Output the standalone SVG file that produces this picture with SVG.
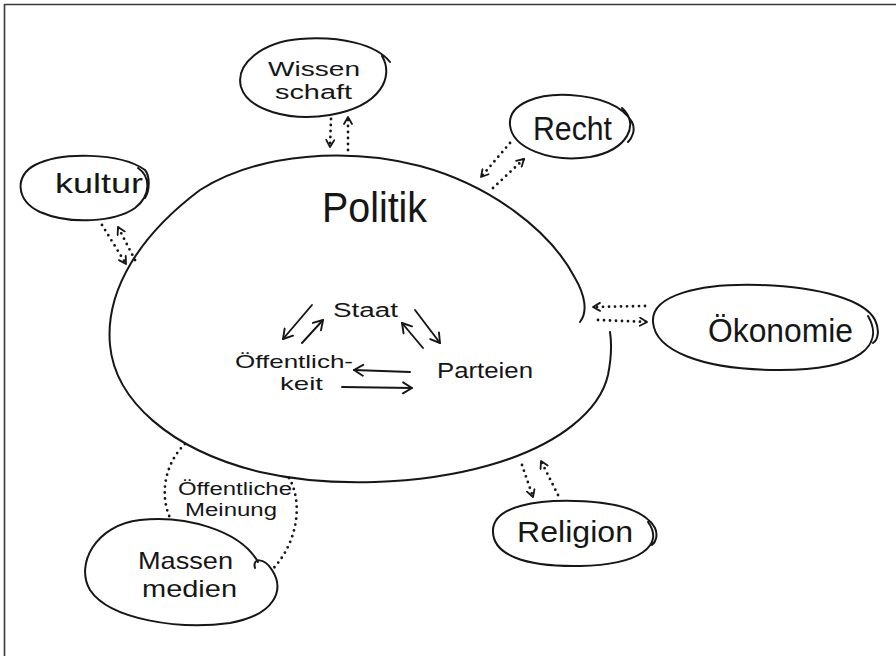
<svg xmlns="http://www.w3.org/2000/svg" width="896" height="656" viewBox="0 0 896 656">
  <style>
    .bg { fill: #ffffff; }
    .frame { fill: none; stroke: #3a3a3a; stroke-width: 1.6; }
    .blob { fill: none; stroke: #161616; stroke-width: 2; stroke-linecap: round; stroke-linejoin: round; }
    .dots { fill: none; stroke: #161616; stroke-width: 2.8; stroke-linecap: round; stroke-dasharray: 0 6; }
    .arrow { fill: none; stroke: #161616; stroke-width: 1.9; stroke-linecap: round; }
    .lbl { font-family: "Liberation Sans", Arial, sans-serif; fill: #161616; }
  </style>
  <defs>
    <marker id="tip" viewBox="0 0 10 10" refX="8" refY="5" markerWidth="10" markerHeight="10" markerUnits="userSpaceOnUse" orient="auto">
      <path d="M1,1 L8,5 L1,9" fill="none" stroke="#161616" stroke-width="1.8" stroke-linecap="round" stroke-linejoin="round"/>
    </marker>
    <marker id="tipL" viewBox="0 0 14 14" refX="11" refY="7" markerWidth="14" markerHeight="14" markerUnits="userSpaceOnUse" orient="auto">
      <path d="M2,1.5 L11,7 L2,12.5" fill="none" stroke="#161616" stroke-width="1.9" stroke-linecap="round" stroke-linejoin="round"/>
    </marker>
  </defs>

  <rect class="bg" x="0" y="0" width="896" height="656"/>
  <path class="frame" d="M4.5,656 L4.5,4.5 L896,4.5"/>

  <!-- central system -->
  <g id="politik">
    <path class="blob" d="M580,322 C588,312 585,295 575,278 C550,230 490,185 420,166 C350,148 260,152 200,190 C140,235 105,290 110,345 C115,400 170,450 260,472 C330,488 420,485 490,465 C560,445 600,410 608,375 C611,360 612,345 610,332"/>
    <text class="lbl" x="322" y="222" font-size="42" textLength="105" lengthAdjust="spacingAndGlyphs">Politik</text>
  </g>

  <g id="staat">
    <text class="lbl" x="333" y="317" font-size="20" textLength="65" lengthAdjust="spacingAndGlyphs">Staat</text>
  </g>
  <g id="oeffentlichkeit">
    <text class="lbl" x="235" y="368" font-size="19" textLength="118" lengthAdjust="spacingAndGlyphs">Öffentlich-</text>
    <text class="lbl" x="280" y="390" font-size="19" textLength="43" lengthAdjust="spacingAndGlyphs">keit</text>
  </g>
  <g id="parteien">
    <text class="lbl" x="437" y="378" font-size="22" textLength="96" lengthAdjust="spacingAndGlyphs">Parteien</text>
  </g>

  <!-- surrounding systems -->
  <g id="wissenschaft">
    <path class="blob" d="M382,56 C394,76 382,106 330,115 C290,122 248,110 241,87 C235,64 262,42 300,39 C340,36 376,44 390,62"/>
    <text class="lbl" x="268" y="76" font-size="20" textLength="92" lengthAdjust="spacingAndGlyphs">Wissen</text>
    <text class="lbl" x="275" y="99" font-size="20" textLength="77" lengthAdjust="spacingAndGlyphs">schaft</text>
  </g>

  <g id="recht">
    <path class="blob" d="M622,108 C640,124 628,150 590,157 C550,163 512,148 510,125 C508,103 540,93 570,95 C600,97 622,105 632,122 C636,130 632,138 628,142"/>
    <text class="lbl" x="533" y="140" font-size="34" textLength="79" lengthAdjust="spacingAndGlyphs">Recht</text>
  </g>

  <g id="kultur">
    <path class="blob" d="M138,168 C150,176 152,195 135,208 C115,222 70,225 40,212 C15,200 15,175 35,165 C60,152 120,152 145,170 C150,176 150,190 145,198"/>
    <text class="lbl" x="55" y="193" font-size="28" textLength="88" lengthAdjust="spacingAndGlyphs">kultur</text>
  </g>

  <g id="oekonomie">
    <path class="blob" d="M868,316 C885,345 860,370 780,370 C700,370 655,350 653,322 C651,295 700,283 760,285 C820,287 865,300 875,320 C880,330 878,340 873,343"/>
    <text class="lbl" x="708" y="342" font-size="34" textLength="145" lengthAdjust="spacingAndGlyphs">Ökonomie</text>
  </g>

  <g id="religion">
    <path class="blob" d="M648,522 C665,545 640,565 580,566 C525,567 492,555 493,530 C494,505 540,500 575,501 C615,502 645,510 655,528 C658,535 656,542 652,545"/>
    <text class="lbl" x="517" y="542" font-size="29" textLength="116" lengthAdjust="spacingAndGlyphs">Religion</text>
  </g>

  <g id="massenmedien">
    <path class="blob" d="M255,568 C252,558 264,557 272,570 C285,590 275,615 230,623 C180,630 110,620 90,590 C75,565 95,525 140,520 C185,515 240,530 258,562"/>
    <text class="lbl" x="138" y="569" font-size="24" textLength="95" lengthAdjust="spacingAndGlyphs">Massen</text>
    <text class="lbl" x="142" y="597" font-size="24" textLength="95" lengthAdjust="spacingAndGlyphs">medien</text>
  </g>

  <g id="oeffentliche-meinung">
    <text class="lbl" x="178" y="495" font-size="18" textLength="114" lengthAdjust="spacingAndGlyphs">Öffentliche</text>
    <text class="lbl" x="185" y="516" font-size="18" textLength="92" lengthAdjust="spacingAndGlyphs">Meinung</text>
  </g>

  <!-- connectors -->
  <g id="connectors">
    <!-- exchange with the surrounding systems -->
    <path class="dots" d="M331,119 L330,147" marker-end="url(#tip)"/>
    <path class="dots" d="M348,150 L348,117" marker-end="url(#tip)"/>

    <path class="dots" d="M102,225 L126,264" marker-end="url(#tip)"/>
    <path class="dots" d="M135,260 L118,227" marker-end="url(#tip)"/>

    <path class="dots" d="M510,143 L481,177" marker-end="url(#tip)"/>
    <path class="dots" d="M493,188 L524,159" marker-end="url(#tip)"/>

    <path class="dots" d="M645,306 L593,307" marker-end="url(#tip)"/>
    <path class="dots" d="M598,320 L647,322" marker-end="url(#tip)"/>

    <path class="dots" d="M522,465 L533,497" marker-end="url(#tip)"/>
    <path class="dots" d="M558,495 L541,461" marker-end="url(#tip)"/>

    <!-- public opinion loop to the mass media -->
    <path class="dots" d="M185,444 C168,460 158,490 170,518"/>
    <path class="dots" d="M289,478 C302,500 300,540 272,570"/>

    <!-- relations inside the political system -->
    <path class="arrow" d="M312,305 L283,339" marker-end="url(#tipL)"/>
    <path class="arrow" d="M302,343 L323,320" marker-end="url(#tipL)"/>
    <path class="arrow" d="M415,310 L440,343" marker-end="url(#tipL)"/>
    <path class="arrow" d="M423,348 L402,323" marker-end="url(#tipL)"/>
    <path class="arrow" d="M410,372 L354,370" marker-end="url(#tipL)"/>
    <path class="arrow" d="M342,387 L412,388" marker-end="url(#tipL)"/>
  </g>
</svg>
